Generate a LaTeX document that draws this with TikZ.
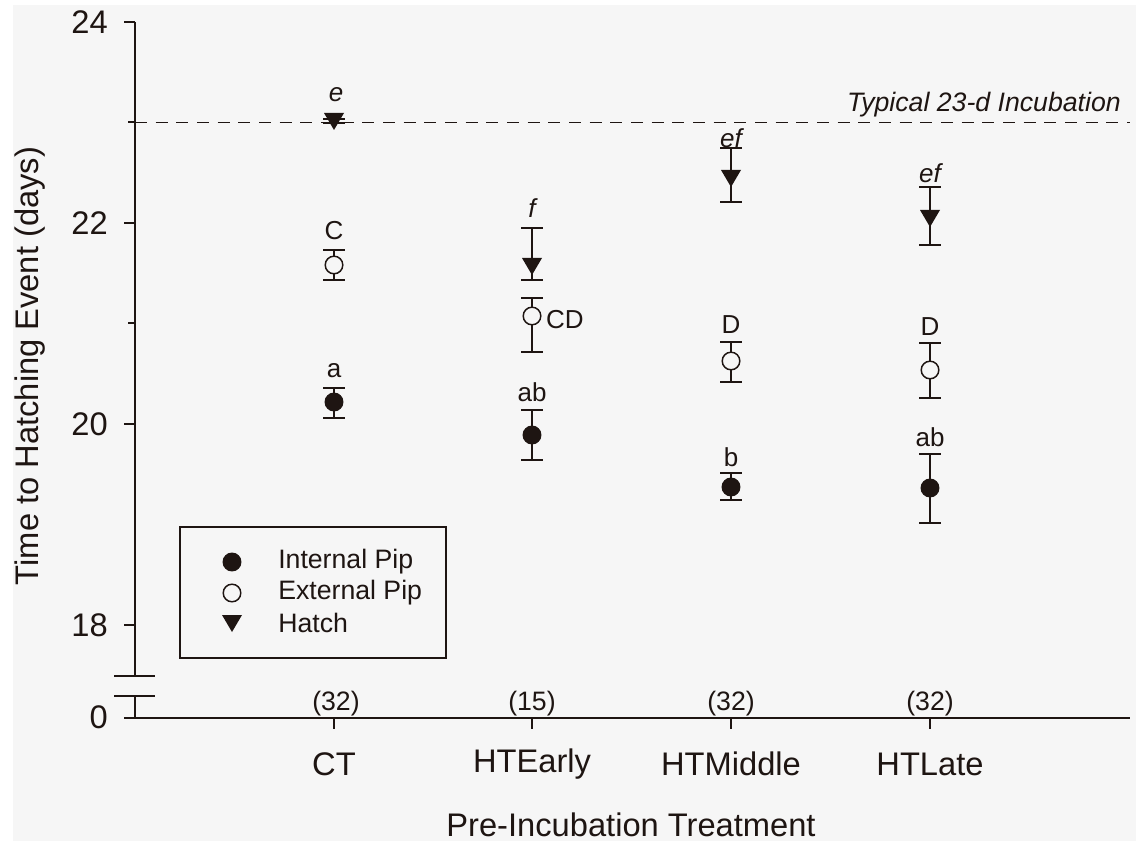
\documentclass[tikz,border=0pt]{standalone}
\usepackage{fontspec}
\setmainfont{Liberation Sans}
\definecolor{ink}{HTML}{1E1512}
\definecolor{bg}{HTML}{F6F6F6}
\newcommand{\myebar}[3]{%
  \draw[barline] (#1,#2) -- (#1,#3);
  \draw[barline] (#1-11,#2) -- (#1+11,#2);
  \draw[barline] (#1-11,#3) -- (#1+11,#3);}
\newcommand{\myfdot}[2]{\fill[ink] (#1,#2) circle[radius=7.1pt];}
\newcommand{\myodot}[2]{\filldraw[fill=bg,draw=ink,line width=1.1pt] (#1,#2) circle[radius=6.6pt];}
\newcommand{\mytdown}[2]{\fill[ink] (#1-10,#2-7) -- (#1+10,#2-7) -- (#1,#2+10) -- cycle;}
\begin{document}
\begin{tikzpicture}[x=0.75pt,y=-0.75pt,
  axis/.style={ink,line width=1.5pt},
  barline/.style={ink,line width=1.4pt},
  ticklbl/.style={text=ink,font=\fontsize{24.5}{28}\selectfont,inner sep=0pt},
  catlbl/.style={text=ink,font=\fontsize{24.5}{28}\selectfont,inner sep=0pt},
  nlbl/.style={text=ink,font=\fontsize{20}{24}\selectfont,inner sep=0pt},
  letter/.style={text=ink,font=\fontsize{19.5}{23}\selectfont,inner sep=0pt},
  iletter/.style={text=ink,font=\fontsize{19.5}{23}\selectfont\itshape,inner sep=0pt},
  leglbl/.style={text=ink,font=\fontsize{20}{24}\selectfont,inner sep=0pt,anchor=west}]
\useasboundingbox (0,0) rectangle (1136,841);
\fill[white] (0,0) rectangle (1136,841);
\fill[bg] (13,5) rectangle (1136,841);

% reference line
\draw[ink,line width=1.1pt,dash pattern=on 9pt off 6.5pt] (135,122.5) -- (1130,122.5);
\node[iletter,font=\fontsize{20}{24}\selectfont\itshape,anchor=base east] (typ) at (1121,112) {Typical 23-d Incubation};

% axes
\draw[axis] (135,22) -- (135,676);
\draw[axis] (135,696) -- (135,718);
\draw[axis] (124,718) -- (1130,718);
\draw[axis] (114,676) -- (155,676);
\draw[axis] (114,696) -- (155,696);
\foreach \yy in {22,223,424,625} \draw[axis] (124,\yy) -- (135,\yy);
\foreach \yy in {122.5,323} \draw[axis] (128,\yy) -- (135,\yy);
\foreach \xx in {334,532,731,930} \draw[axis] (\xx,718) -- (\xx,729);

% y tick labels
\node[ticklbl,anchor=east] (y24) at (108,22) {24};
\node[ticklbl,anchor=east] (y22) at (108,223) {22};
\node[ticklbl,anchor=east] (y20) at (108,424) {20};
\node[ticklbl,anchor=east] (y18) at (108,625) {18};
\node[ticklbl,anchor=east] (y0) at (108,717) {0};

% y title
\node[ticklbl,rotate=90] (ytitle) at (30,366) {Time to Hatching Event (days)};

% category labels
\node[catlbl] (cCT) at (334,764) {CT};
\node[catlbl] (cHE) at (532,764) {HTEarly};
\node[catlbl] (cHM) at (731,764) {HTMiddle};
\node[catlbl] (cHL) at (930,764) {HTLate};
\node[catlbl] (xtitle) at (631,825) {Pre-Incubation Treatment};

% sample sizes
\node[nlbl] (nCT) at (336,704) {(32)};
\node[nlbl] (nHE) at (532,704) {(15)};
\node[nlbl] (nHM) at (731,704) {(32)};
\node[nlbl] (nHL) at (930,704) {(32)};

% error bars
\myebar{334}{119}{123}
\myebar{334}{250}{280}
\myebar{334}{388}{418}
\myebar{532}{228}{280}
\myebar{532}{298}{352}
\myebar{532}{410}{460}
\myebar{731}{148}{202}
\myebar{731}{342}{382}
\myebar{731}{473}{500}
\myebar{930}{187}{245}
\myebar{930}{343}{398}
\myebar{930}{454}{523}

% markers
\mytdown{334}{120}
\myodot{334}{265}
\myfdot{334}{402}
\mytdown{532}{265}
\myodot{532}{316}
\myfdot{532}{435}
\mytdown{731}{177}
\myodot{731}{361}
\myfdot{731}{487}
\mytdown{930}{217}
\myodot{930}{370}
\myfdot{930}{488}

% letters
\node[iletter] (lCTh) at (336,95) {e};
\node[letter] (lCTe) at (334,231) {C};
\node[letter] (lCTi) at (334,371) {a};
\node[iletter] (lHEh) at (532,208) {f};
\node[letter] (lHEe) at (565,320) {CD};
\node[letter] (lHEi) at (532,392) {ab};
\node[iletter] (lHMh) at (731,138) {ef};
\node[letter] (lHMe) at (731,325) {D};
\node[letter] (lHMi) at (731,457) {b};
\node[iletter] (lHLh) at (930,173) {ef};
\node[letter] (lHLe) at (930,327) {D};
\node[letter] (lHLi) at (930,437) {ab};

% legend
\draw[ink,line width=1.2pt] (180,527) rectangle (446,658);
\myfdot{232}{562}
\myodot{232}{593}
\mytdown{232}{622}
\node[leglbl] (leg1) at (278,562) {Internal Pip};
\node[leglbl] (leg2) at (278,593) {External Pip};
\node[leglbl] (leg3) at (278,623) {Hatch};
\end{tikzpicture}
\end{document}
